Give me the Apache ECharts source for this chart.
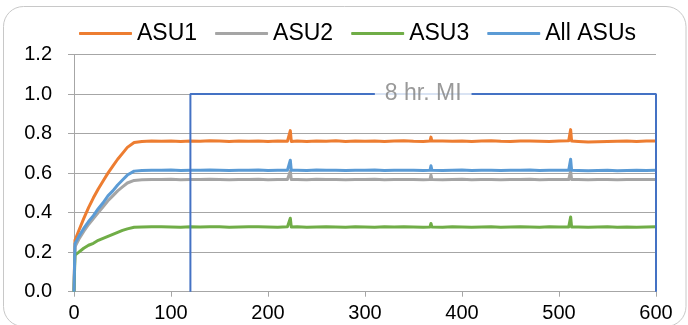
<!DOCTYPE html>
<html>
<head>
<meta charset="utf-8">
<script src="https://cdn.jsdelivr.net/npm/echarts@6/dist/echarts.min.js"></script>
<style>
html,body{margin:0;padding:0;background:#fff;}
#chart{width:688px;height:325px;}
</style>
</head>
<body>
<div id="chart"></div>
<script>
// Time axis (x) values
var times = [0,1,5,10,15,20,25,30,35,40,45,50,55,62,
  70,80,90,100,110,120,130,140,150,160,170,180,190,200,210,220,
  222,223,224,
  230,240,250,260,270,280,290,300,310,320,330,340,350,360,
  367,368,369,
  370,380,390,400,410,420,430,440,450,460,470,480,490,500,510,
  511,512,513,
  520,530,540,550,560,570,580,590,600];

var asu1 = [0,0.26,0.31,0.37,0.425,0.475,0.52,0.56,0.60,0.635,0.67,0.70,0.73,0.755,
  0.76,0.763,0.761,0.762,0.760,0.763,0.761,0.764,0.762,0.760,0.763,0.761,0.762,0.760,0.763,0.761,
  0.762,0.815,0.76,
  0.762,0.760,0.763,0.761,0.764,0.760,0.762,0.761,0.763,0.760,0.762,0.764,0.761,0.760,
  0.762,0.782,0.762,
  0.760,0.763,0.761,0.762,0.760,0.762,0.764,0.761,0.760,0.762,0.763,0.761,0.760,0.762,0.764,
  0.765,0.82,0.762,
  0.760,0.757,0.758,0.760,0.761,0.762,0.760,0.762,0.763];

var asu2 = [0,0.227,0.265,0.305,0.34,0.37,0.40,0.43,0.46,0.485,0.51,0.53,0.55,0.563,
  0.566,0.568,0.567,0.569,0.566,0.568,0.567,0.569,0.568,0.566,0.568,0.567,0.569,0.566,0.568,0.567,
  0.568,0.61,0.567,
  0.568,0.566,0.569,0.567,0.568,0.566,0.568,0.567,0.569,0.566,0.568,0.567,0.568,0.566,
  0.567,0.59,0.567,
  0.568,0.566,0.567,0.569,0.566,0.568,0.567,0.566,0.568,0.567,0.569,0.566,0.567,0.568,0.567,
  0.568,0.61,0.567,
  0.567,0.566,0.567,0.568,0.566,0.567,0.568,0.567,0.568];

var asu3 = [0,0.185,0.2,0.22,0.235,0.245,0.26,0.27,0.28,0.29,0.30,0.31,0.318,0.326,
  0.327,0.329,0.328,0.327,0.326,0.328,0.327,0.329,0.328,0.326,0.327,0.328,0.329,0.327,0.326,0.328,
  0.327,0.372,0.327,
  0.328,0.326,0.327,0.329,0.327,0.326,0.328,0.327,0.326,0.328,0.327,0.329,0.327,0.326,
  0.327,0.345,0.327,
  0.327,0.326,0.328,0.327,0.326,0.327,0.328,0.326,0.327,0.328,0.327,0.326,0.328,0.327,0.327,
  0.328,0.378,0.327,
  0.327,0.326,0.327,0.328,0.326,0.327,0.326,0.327,0.328];

var allAsus = [0,0.243,0.28,0.32,0.355,0.385,0.42,0.45,0.485,0.51,0.54,0.565,0.59,0.61,
  0.613,0.615,0.614,0.616,0.613,0.615,0.614,0.616,0.615,0.613,0.615,0.614,0.616,0.613,0.615,0.614,
  0.615,0.665,0.614,
  0.615,0.613,0.616,0.614,0.615,0.613,0.615,0.614,0.616,0.613,0.615,0.614,0.615,0.613,
  0.614,0.637,0.614,
  0.615,0.613,0.614,0.616,0.613,0.615,0.614,0.613,0.615,0.614,0.616,0.613,0.614,0.615,0.614,
  0.615,0.67,0.614,
  0.613,0.612,0.613,0.614,0.612,0.613,0.614,0.613,0.614];

var seriesNames = ['ASU1','ASU2','ASU3','All ASUs'];
var seriesColors = ['#ED7D31','#A5A5A5','#70AD47','#5B9BD5'];

// "8 hr. MI" bracket
var bracketX = [120,120,600,600];
var bracketY = [0,1.0,1.0,0];
var bracketLabel = '8 hr. MI';
var bracketLabelPos = [360,1.0];

var yTicks = [0,0.2,0.4,0.6,0.8,1.0,1.2];
var xTicks = [0,100,200,300,400,500,600];

function pairs(xs, ys){ return xs.map(function(x,i){ return [x, ys[i]]; }); }

var seriesValues = [asu1, asu2, asu3, allAsus];
var series = seriesValues.map(function(vals, i){
  return {
    name: seriesNames[i], type:'line', data: pairs(times, vals),
    showSymbol:false, symbol:'none', animation:false,
    lineStyle:{color:seriesColors[i], width:3, join:'round'},
    itemStyle:{color:seriesColors[i]}, z: 3 + i
  };
});
series.push({
  name:'bracket', type:'line', data: pairs(bracketX, bracketY),
  showSymbol:false, symbol:'none', animation:false, z:10,
  lineStyle:{color:'#4472C4', width:2}, itemStyle:{color:'#4472C4'}
});
series.push({
  name:'bracketLabel', type:'scatter', data:[bracketLabelPos], symbolSize:0, z:11, animation:false,
  label:{show:true, position:'inside', formatter: bracketLabel, color:'#7F7F7F',
    fontSize:23, fontFamily:'Liberation Sans, Arial, sans-serif',
    backgroundColor:'#fff', padding:[2,10,2,10]}
});

var chart = echarts.init(document.getElementById('chart'), null, {renderer:'canvas'});
chart.setOption({
  animation:false,
  backgroundColor:'#fff',
  graphic:[{
    type:'rect', shape:{x:3.5, y:6.5, width:682.5, height:320, r:20},
    style:{fill:'none', stroke:'#C8C8C8', lineWidth:1}, z:-1, silent:true
  }],
  legend:{
    data: seriesNames, left:74, top:17, itemWidth:53, itemHeight:3, itemGap:18,
    icon:'roundRect',
    textStyle:{fontSize:23, color:'#000', fontFamily:'Liberation Sans, Arial, sans-serif'}
  },
  grid:{left:74, right:32, top:54.5, bottom:33.3, containLabel:false},
  xAxis:{
    type:'value', min:0, max:600, interval:100,
    axisLine:{show:true, lineStyle:{color:'#A6A6A6', width:1}},
    axisTick:{show:true, length:5, lineStyle:{color:'#A6A6A6'}},
    splitLine:{show:false},
    axisLabel:{fontSize:20, color:'#000', margin:12, fontFamily:'Liberation Sans, Arial, sans-serif',
      formatter:function(v){ return xTicks.indexOf(v) >= 0 ? String(v) : ''; }}
  },
  yAxis:{
    type:'value', min:0, max:1.2, interval:0.2,
    axisLine:{show:true, lineStyle:{color:'#A6A6A6', width:1}},
    axisTick:{show:true, length:6, lineStyle:{color:'#A6A6A6'}},
    splitLine:{show:true, lineStyle:{color:'#A6A6A6', width:1}},
    axisLabel:{fontSize:20, color:'#000', margin:22, fontFamily:'Liberation Sans, Arial, sans-serif',
      formatter:function(v){ return v.toFixed(1); }}
  },
  series: series
});
</script>
</body>
</html>
